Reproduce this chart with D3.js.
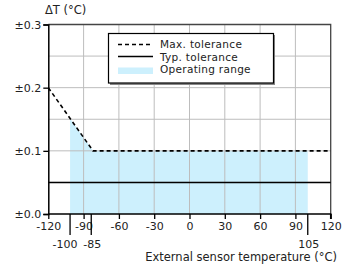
<!DOCTYPE html>
<html>
<head>
<meta charset="utf-8">
<script src="https://cdn.jsdelivr.net/npm/d3@7"></script>
<style>
	body { margin: 0; background: #fff; }
	svg { display: block; }
	text { font-family: "DejaVu Sans", sans-serif; fill: #222; }
</style>
</head>
<body>
<div id="viz"></div>
<script>
// data
var xTicks = [-120, -90, -60, -30, 0, 30, 60, 90, 120];
var yTicks = [0, 0.1, 0.2, 0.3];
var yTickLabels = ["±0.0", "±0.1", "±0.2", "±0.3"];
var yGrid = [0.05, 0.1, 0.15, 0.2, 0.25];
var markerTicks = [-101.5, -83.5, 100.5];
var markerLabels = ["-100", "-85", "105"];
var maxTolT = [-120, -82, 120];
var maxTolV = [0.2, 0.1, 0.1];
var typTolT = [-120, 120];
var typTolV = [0.05, 0.05];
var rangeT = [-101.5, 100.5]; // operating range as drawn
var legendLabels = ["Max. tolerance", "Typ. tolerance", "Operating range"];

var W = 349, H = 269;
var x = d3.scaleLinear().domain([-120, 120]).range([48.3, 330.7]);
var y = d3.scaleLinear().domain([0, 0.3]).range([214, 24.5]);

var svg = d3.select("#viz").append("svg").attr("width", W).attr("height", H);

var maxTol = maxTolT.map(function(t, i) { return {t: t, v: maxTolV[i]}; });
var typTol = typTolT.map(function(t, i) { return {t: t, v: typTolV[i]}; });

// clip for the operating range: area under max tolerance
svg.append("clipPath").attr("id", "under")
	.append("path")
	.datum(maxTol)
	.attr("d", d3.area().x(function(d) { return x(d.t); }).y0(y(0)).y1(function(d) { return y(d.v); }));

svg.append("rect")
	.attr("x", x(rangeT[0])).attr("y", y(0.3))
	.attr("width", x(rangeT[1]) - x(rangeT[0])).attr("height", y(0) - y(0.3))
	.attr("fill", "#cdf0fd")
	.attr("clip-path", "url(#under)");

// grid
svg.append("g").selectAll("line").data(xTicks.slice(1, -1)).enter().append("line")
	.attr("x1", function(d) { return x(d); }).attr("x2", function(d) { return x(d); })
	.attr("y1", y(0)).attr("y2", y(0.3))
	.attr("stroke", "#bdbdbd").attr("stroke-width", 1);
svg.append("g").selectAll("line").data(yGrid).enter().append("line")
	.attr("x1", x(-120)).attr("x2", x(120))
	.attr("y1", function(d) { return y(d); }).attr("y2", function(d) { return y(d); })
	.attr("stroke", "#bdbdbd").attr("stroke-width", 1);

// frame top/right
svg.append("path")
	.attr("d", "M" + x(-120) + "," + y(0.3) + "H" + x(120) + "V" + y(0))
	.attr("fill", "none").attr("stroke", "#444").attr("stroke-width", 1.3);

// tolerance lines
var line = d3.line().x(function(d) { return x(d.t); }).y(function(d) { return y(d.v); });
svg.append("path").datum(typTol).attr("d", line)
	.attr("fill", "none").attr("stroke", "#000").attr("stroke-width", 1.5);
svg.append("path").datum(maxTol).attr("d", line)
	.attr("fill", "none").attr("stroke", "#000").attr("stroke-width", 1.6)
	.attr("stroke-dasharray", "4,3");

// axes
var xAxis = svg.append("g").attr("transform", "translate(0," + y(0) + ")")
	.call(d3.axisBottom(x).tickValues(xTicks).tickSize(5).tickPadding(3).tickFormat(function(d) { return String(d); }));
var yAxis = svg.append("g").attr("transform", "translate(" + x(-120) + ",0)")
	.call(d3.axisLeft(y).tickValues(yTicks).tickSize(5).tickPadding(2)
		.tickFormat(function(d, i) { return yTickLabels[i]; }));
[xAxis, yAxis].forEach(function(a) {
	a.select(".domain").attr("stroke", "#000").attr("stroke-width", 1.5);
	a.selectAll(".tick line").attr("stroke", "#000").attr("stroke-width", 1.3);
	a.selectAll("text").attr("font-family", "DejaVu Sans").attr("font-size", 11).attr("fill", "#222");
});
xAxis.select(".domain").attr("d", "M" + x(-120) + ",0H" + x(120) + "V5");

// special ticks
var mk = svg.append("g").selectAll("g").data(markerTicks).enter().append("g");
mk.append("line")
	.attr("x1", function(d) { return x(d); }).attr("x2", function(d) { return x(d); })
	.attr("y1", y(0)).attr("y2", y(0) + 21)
	.attr("stroke", "#000").attr("stroke-width", 1.3);
mk.append("text")
	.attr("x", function(d) { return x(d); }).attr("y", 248)
	.attr("dx", function(d, i) { return i == 0 ? -5 : 1; }) // first one sits left of its tick
	.attr("text-anchor", "middle").attr("font-size", 11)
	.text(function(d, i) { return markerLabels[i]; });

// titles
svg.append("text").attr("x", 45).attr("y", 14)
	.attr("font-family", "Liberation Sans, Arial, sans-serif").attr("font-size", 11.5)
	.text("ΔT (°C)");
svg.append("text").attr("x", 337).attr("y", 261).attr("text-anchor", "end")
	.attr("font-size", 11.5)
	.text("External sensor temperature (°C)");

// legend
var lg = svg.append("g");
lg.append("rect").attr("x", 110).attr("y", 35).attr("width", 165).attr("height", 50).attr("fill", "#888");
lg.append("rect").attr("x", 108.5).attr("y", 33.5).attr("width", 165).attr("height", 49.5)
	.attr("fill", "#fff").attr("stroke", "#000").attr("stroke-width", 1.2);
lg.append("line").attr("x1", 118).attr("x2", 153).attr("y1", 44.5).attr("y2", 44.5)
	.attr("stroke", "#000").attr("stroke-width", 1.6).attr("stroke-dasharray", "4,3");
lg.append("line").attr("x1", 118).attr("x2", 153).attr("y1", 56.5).attr("y2", 56.5)
	.attr("stroke", "#000").attr("stroke-width", 1.6);
lg.append("rect").attr("x", 118).attr("y", 67.5).attr("width", 35).attr("height", 6.5).attr("fill", "#cdf0fd");
lg.selectAll("text.lab").data(legendLabels).enter().append("text")
	.attr("class", "lab")
	.attr("x", 160).attr("y", function(d, i) { return 48.3 + i * 12.4; })
	.attr("font-size", 10.5).attr("letter-spacing", 0.3)
	.text(function(d) { return d; });
</script>
</body>
</html>
